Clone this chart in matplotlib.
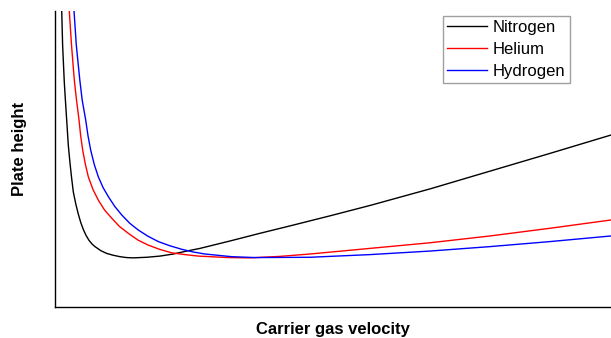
import numpy as np
import matplotlib.pyplot as plt

plt.rcParams['font.family'] = ['Liberation Sans', 'DejaVu Sans']

n2_u = [1.15, 1.21, 1.37, 1.67, 1.87, 2.10, 2.39, 2.70, 2.97, 3.29, 3.74, 4.19, 4.64, 5.09,
        5.58, 6.12, 6.65, 7.19, 8.27, 9.30, 10.43, 11.69, 12.86, 14.08, 16.49, 18.88,
        21.28, 23.69, 26.08, 31.47, 36.87, 42.27, 49.46, 56.65, 67.45, 78.24, 89.03, 100.0]
n2_h = [10.37, 10.00, 8.85, 7.60, 6.99, 6.32, 5.47, 4.86, 4.39, 3.89, 3.48, 3.14, 2.85, 2.62,
        2.42, 2.25, 2.13, 2.04, 1.90, 1.81, 1.75, 1.70, 1.67, 1.66, 1.68, 1.72,
        1.79, 1.89, 1.98, 2.23, 2.49, 2.74, 3.08, 3.43, 3.99, 4.59, 5.19, 5.81]

he_u = [2.45, 2.57, 2.97, 3.47, 3.87, 4.32, 4.62, 4.98, 5.45, 5.99, 6.83, 7.79, 8.90, 10.20,
        11.60, 13.18, 14.93, 16.78, 18.79, 20.99, 23.38, 25.77, 31.17, 35.07, 40.47, 45.86,
        56.65, 67.45, 78.24, 89.03, 100.0]
he_h = [10.37, 10.00, 8.85, 7.67, 6.99, 6.32, 5.78, 5.30, 4.83, 4.40, 3.97, 3.61, 3.28, 3.00,
        2.72, 2.49, 2.26, 2.09, 1.95, 1.83, 1.77, 1.72, 1.67, 1.66, 1.71, 1.79,
        1.98, 2.17, 2.40, 2.66, 2.94]

h2_u = [3.29, 3.42, 3.83, 4.46, 4.89, 5.52, 5.94, 6.42, 7.07, 7.79, 8.63, 9.59, 10.74, 12.00,
        13.44, 14.98, 16.73, 18.58, 20.63, 22.79, 24.82, 26.98, 31.78, 35.97, 45.86, 56.65,
        67.45, 78.24, 89.03, 100.0]
h2_h = [10.37, 10.00, 8.85, 7.67, 6.99, 6.32, 5.78, 5.30, 4.81, 4.40, 4.04, 3.73, 3.40, 3.11,
        2.83, 2.60, 2.39, 2.21, 2.07, 1.95, 1.86, 1.79, 1.70, 1.67, 1.68, 1.77,
        1.89, 2.04, 2.21, 2.40]

labels = ['Nitrogen', 'Helium', 'Hydrogen']
colors = ['black', 'red', 'blue']

fig = plt.figure(figsize=(6.11, 3.38), dpi=100)
ax = fig.add_axes([55 / 611, 31 / 338, 556 / 611, 296 / 338])

for u, h, lab, c in zip([n2_u, he_u, h2_u], [n2_h, he_h, h2_h], labels, colors):
    ax.plot(u, h, color=c, lw=1.0, label=lab, solid_joinstyle='round')

ax.set_xlim(0, 100)
ax.set_ylim(0, 10)
ax.set_xticks([])
ax.set_yticks([])
for side in ['top', 'right']:
    ax.spines[side].set_visible(False)
for side in ['left', 'bottom']:
    ax.spines[side].set_linewidth(1.0)

ax.set_xlabel('Carrier gas velocity', fontsize=12, fontweight='bold', labelpad=11)
ax.set_ylabel('Plate height', fontsize=12, fontweight='bold')
ax.yaxis.label.set_va('center')
ax.yaxis.set_label_coords(-35.5 / 556, (307 - 149) / 296)

leg = ax.legend(loc='upper right', bbox_to_anchor=(0.926, 0.984), borderaxespad=0,
                fontsize=12, fancybox=False, framealpha=1, edgecolor='#a0a0a0',
                handlelength=2.4, handletextpad=0.35, labelspacing=0.43,
                borderpad=0.25)
leg.get_frame().set_linewidth(1.0)

fig.savefig('out.png', dpi=100)
